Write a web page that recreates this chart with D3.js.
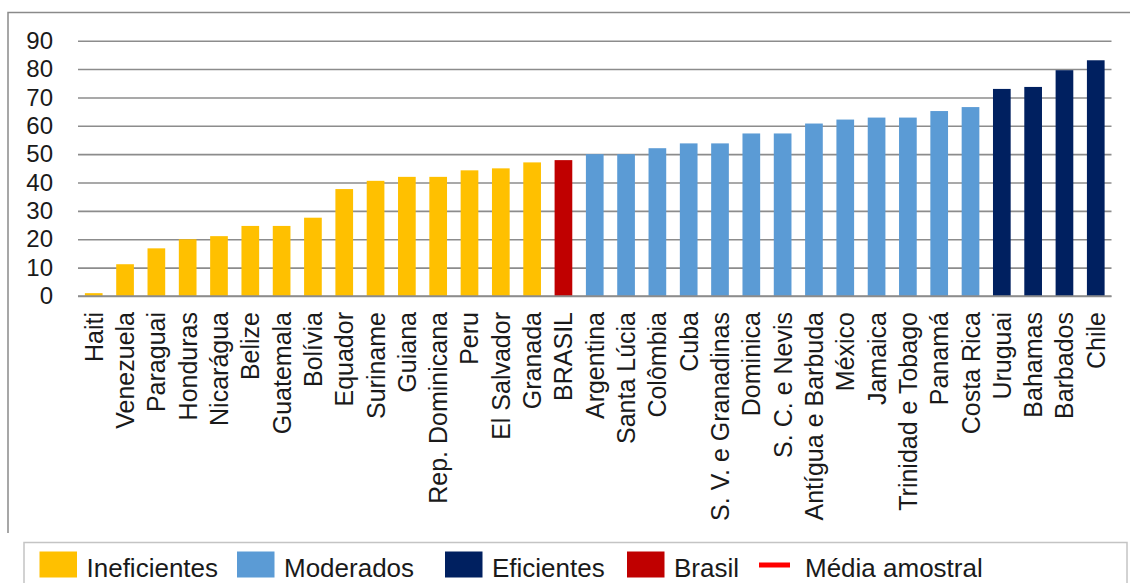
<!DOCTYPE html>
<html><head><meta charset="utf-8">
<script src="https://cdn.jsdelivr.net/npm/d3@7"></script>
<style>
html,body{margin:0;padding:0;background:#fff;}
svg{display:block;font-family:"Liberation Sans",Arial,sans-serif;}
</style></head>
<body>
<svg id="chart" width="1130" height="583"></svg>
<script>
const countries = ["Haiti","Venezuela","Paraguai","Honduras","Nicarágua","Belize","Guatemala","Bolívia","Equador","Suriname","Guiana","Rep. Dominicana","Peru","El Salvador","Granada","BRASIL","Argentina","Santa Lúcia","Colômbia","Cuba","S. V. e Granadinas","Dominica","S. C. e Nevis","Antígua e Barbuda","México","Jamaica","Trinidad e Tobago","Panamá","Costa Rica","Uruguai","Bahamas","Barbados","Chile"];
const values = [1,11.2,16.8,20,21.1,24.7,24.7,27.6,37.7,40.6,42,42,44.3,45,47.1,47.9,50,50,52.1,53.8,53.8,57.3,57.3,60.8,62.2,62.9,62.9,65.2,66.6,73,73.7,79.6,83.1];
const groups = ["I","I","I","I","I","I","I","I","I","I","I","I","I","I","I","B","M","M","M","M","M","M","M","M","M","M","M","M","M","E","E","E","E"];
const yTicks = [0,10,20,30,40,50,60,70,80,90];
const legendKeys = ["I","M","E","B","L"];
const legendLabels = ["Ineficientes","Moderados","Eficientes","Brasil","Média amostral"];
const groupColors = {I:"#FFC000",M:"#5B9BD5",E:"#002060",B:"#C00000",L:"#FF0000"};

const data = countries.map((c,i)=>({c, v:values[i], g:groups[i]}));
const svg = d3.select("#chart");

// outer frame (partially visible)
svg.append("path").attr("d","M8,533V12.5H1131").attr("fill","none").attr("stroke","#8a8a8a").attr("stroke-width",1.5);

const x = d3.scaleBand().domain(countries).range([78,1111.5]).paddingInner(0.435).paddingOuter(0.22);
const y = d3.scaleLinear().domain([0,90]).range([296,40.7]);

// y axis + gridlines
const yAxis = svg.append("g").attr("transform","translate(78,0)")
  .call(d3.axisLeft(y).tickValues(yTicks).tickSize(-(1111.5-78)).tickPadding(25).tickFormat(d3.format("d")));
yAxis.select(".domain").remove();
yAxis.selectAll(".tick line").attr("stroke","#8c8c8c").attr("stroke-width",1.6);
yAxis.selectAll(".tick text").attr("font-size",24).attr("fill","#1a1a1a").attr("font-family","Liberation Sans, Arial, sans-serif");

// bars
svg.append("g").selectAll("rect").data(data).join("rect")
  .attr("x",d=>x(d.c)).attr("width",x.bandwidth())
  .attr("y",d=>y(d.v)).attr("height",d=>y(0)-y(d.v))
  .attr("fill",d=>groupColors[d.g]);

// baseline redraw on top
svg.append("line").attr("x1",78).attr("x2",1111.5).attr("y1",y(0)).attr("y2",y(0)).attr("stroke","#8c8c8c").attr("stroke-width",1.6);

// x axis labels
const xAxis = svg.append("g").attr("transform",`translate(0,${y(0)})`)
  .call(d3.axisBottom(x).tickSize(0).tickPadding(0));
xAxis.select(".domain").remove();
xAxis.selectAll(".tick text")
  .attr("transform","rotate(-90)")
  .attr("text-anchor","end")
  .attr("x",-16).attr("y",0).attr("dy","0.36em")
  .attr("font-size",25).attr("fill","#1a1a1a")
  .attr("font-family","Liberation Sans, Arial, sans-serif");

// legend
svg.append("rect").attr("x",24).attr("y",542.5).attr("width",1103).attr("height",80)
  .attr("fill","none").attr("stroke","#c4c4c4").attr("stroke-width",1.5);
const legendX = [39.5,237,445,627,759];
const lg = svg.append("g").selectAll("g").data(legendKeys).join("g")
  .attr("transform",(d,i)=>`translate(${legendX[i]},0)`);
lg.each(function(d,i){
  const g = d3.select(this);
  if(d==="L"){
    g.append("rect").attr("x",0).attr("y",562.5).attr("width",31).attr("height",5).attr("fill",groupColors[d]);
    g.append("text").attr("x",46).attr("y",577).attr("font-size",26).attr("fill","#1a1a1a").text(legendLabels[i]);
  } else {
    g.append("rect").attr("x",0).attr("y",551.5).attr("width",37.5).attr("height",26).attr("fill",groupColors[d]);
    g.append("text").attr("x",47).attr("y",577).attr("font-size",26).attr("fill","#1a1a1a").text(legendLabels[i]);
  }
});
</script>
</body></html>
